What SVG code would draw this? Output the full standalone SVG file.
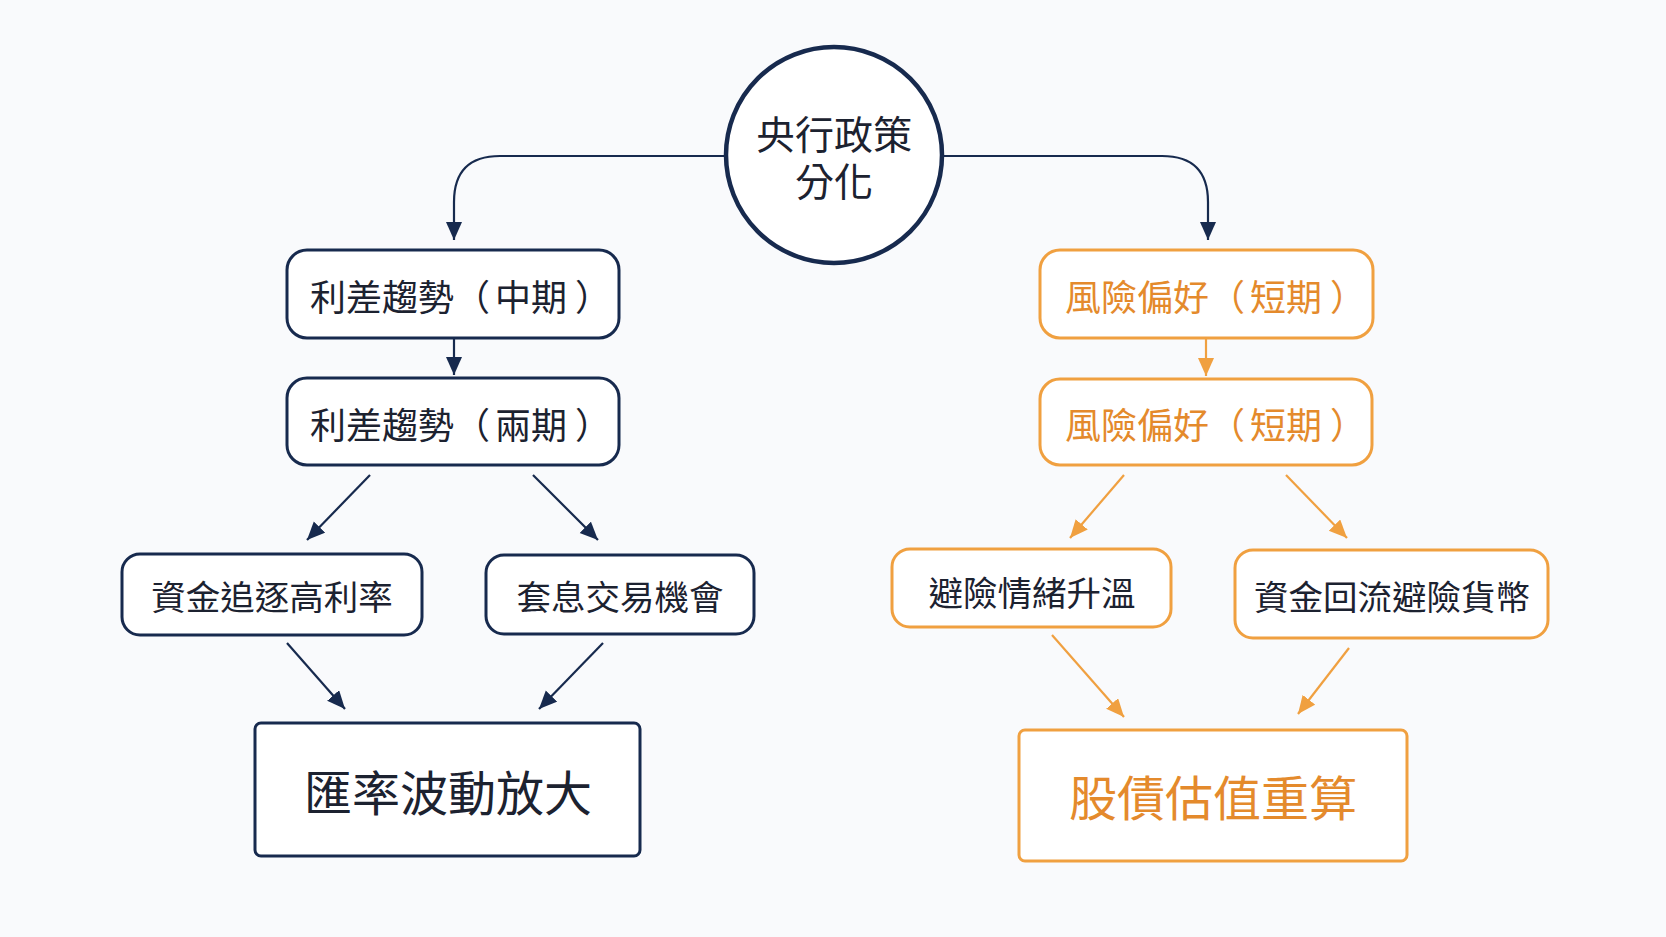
<svg xmlns="http://www.w3.org/2000/svg" width="1666" height="937" viewBox="0 0 1666 937">
<style>
text{font-family:"Noto Sans CJK TC","Noto Sans CJK SC",sans-serif;text-anchor:middle;dominant-baseline:central}
.nb{fill:#ffffff;stroke:#172a4e;stroke-width:3}
.ob{fill:#ffffff;stroke:#f0a040;stroke-width:3}
.tn{fill:#1c2230;font-size:34.5px}
.to{fill:#e48a2c;font-size:34.5px}
.pr{font-size:36px;text-anchor:start}
.big{font-size:48px}
.cn{fill:none;stroke:#172a4e;stroke-width:2.2}
.co{fill:none;stroke:#f0a040;stroke-width:2.2}
</style>
<defs>
<marker id="an" markerUnits="userSpaceOnUse" markerWidth="20" markerHeight="18" refX="18" refY="8" orient="auto"><path d="M0,0 L18,8 L0,16 z" fill="#172a4e"/></marker>
<marker id="ao" markerUnits="userSpaceOnUse" markerWidth="20" markerHeight="18" refX="18" refY="8" orient="auto"><path d="M0,0 L18,8 L0,16 z" fill="#f0a040"/></marker>
</defs>
<rect width="1666" height="937" fill="#f9fafc"/>
<g id="connectors">
<path class="cn" d="M724,156 H500 Q454,156 454,202 V240" marker-end="url(#an)"/>
<path class="cn" d="M944,156 H1162 Q1208,156 1208,202 V240" marker-end="url(#an)"/>
<path class="cn" d="M454,338 V375" marker-end="url(#an)"/>
<path class="co" d="M1206,338 V376" marker-end="url(#ao)"/>
<path class="cn" d="M370,475 L307,540" marker-end="url(#an)"/>
<path class="cn" d="M533,475 L598,540" marker-end="url(#an)"/>
<path class="cn" d="M287,643 L345,709" marker-end="url(#an)"/>
<path class="cn" d="M603,643 L539,709" marker-end="url(#an)"/>
<path class="co" d="M1124,475 L1070,538" marker-end="url(#ao)"/>
<path class="co" d="M1286,475 L1347,538" marker-end="url(#ao)"/>
<path class="co" d="M1052,635 L1124,717" marker-end="url(#ao)"/>
<path class="co" d="M1349,648 L1298,714" marker-end="url(#ao)"/>
</g>
<g id="root">
<circle cx="834" cy="155" r="108" fill="#ffffff" stroke="#172a4e" stroke-width="4.5"/>
<text class="tn" style="font-size:39px"><tspan x="834" y="132">央行政策</tspan><tspan x="834" y="179">分化</tspan></text>
</g>
<g id="n-rate-mid">
<rect class="nb" x="287" y="250" width="332" height="88" rx="20"/>
<text class="tn pr" x="310" y="295">利差趨勢<tspan>（</tspan><tspan dx="5">中期</tspan><tspan dx="8">）</tspan></text>
</g>
<g id="n-rate-long">
<rect class="nb" x="287" y="378" width="332" height="87" rx="20"/>
<text class="tn pr" x="310" y="423">利差趨勢<tspan>（</tspan><tspan dx="5">兩期</tspan><tspan dx="8">）</tspan></text>
</g>
<g id="n-risk-1">
<rect class="ob" x="1040" y="250" width="333" height="88" rx="20"/>
<text class="to pr" x="1065" y="295">風險偏好<tspan>（</tspan><tspan dx="5">短期</tspan><tspan dx="8">）</tspan></text>
</g>
<g id="n-risk-2">
<rect class="ob" x="1040" y="379" width="332" height="86" rx="20"/>
<text class="to pr" x="1065" y="423">風險偏好<tspan>（</tspan><tspan dx="5">短期</tspan><tspan dx="8">）</tspan></text>
</g>
<g id="n-chase">
<rect class="nb" x="122" y="554" width="300" height="81" rx="18"/>
<text class="tn" x="272" y="595">資金追逐高利率</text>
</g>
<g id="n-carry">
<rect class="nb" x="486" y="555" width="268" height="79" rx="18"/>
<text class="tn" x="620" y="595">套息交易機會</text>
</g>
<g id="n-fx">
<rect class="nb" x="255" y="723" width="385" height="133" rx="6"/>
<text class="tn big" x="448" y="790">匯率波動放大</text>
</g>
<g id="n-avoid">
<rect class="ob" x="892" y="549" width="279" height="78" rx="18"/>
<text class="tn" x="1032" y="591">避險情緒升溫</text>
</g>
<g id="n-flow">
<rect class="ob" x="1235" y="550" width="313" height="88" rx="18"/>
<text class="tn" x="1392" y="595">資金回流避險貨幣</text>
</g>
<g id="n-valuation">
<rect class="ob" x="1019" y="730" width="388" height="131" rx="6"/>
<text class="to big" x="1213" y="795">股債估值重算</text>
</g>
</svg>
